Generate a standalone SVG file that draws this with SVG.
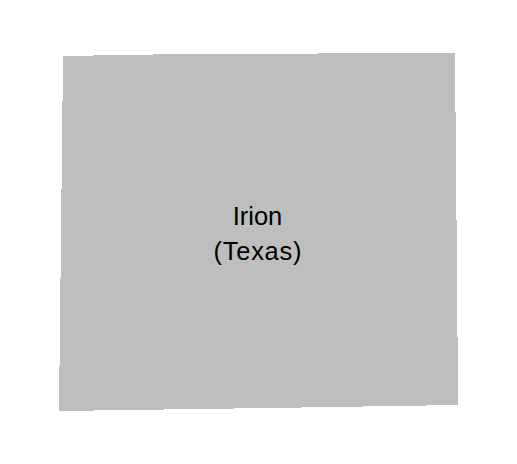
<svg xmlns="http://www.w3.org/2000/svg" width="517" height="464" viewBox="0 0 517 464">
<style>
.shape{fill:#bebebe;stroke:none;shape-rendering:crispEdges}
.label{font-family:"Liberation Sans",Arial,sans-serif;font-size:25.500px;fill:#000;text-anchor:middle}
</style>
<rect width="517" height="464" fill="#fff"/>
<g id="irion">
<path class="shape" d="M63,56H93V55H153V54H318V53H455V112H456V220H457V337H458V405H426V406H363V407H301V408H234V409H164V410H94V411H59V366H60V278H61V189H62V101H63Z"/>
<text class="label" x="257.500" y="225">Irion</text>
<text class="label" x="257.500" y="260" textLength="88">(Texas)</text>
</g>
</svg>
